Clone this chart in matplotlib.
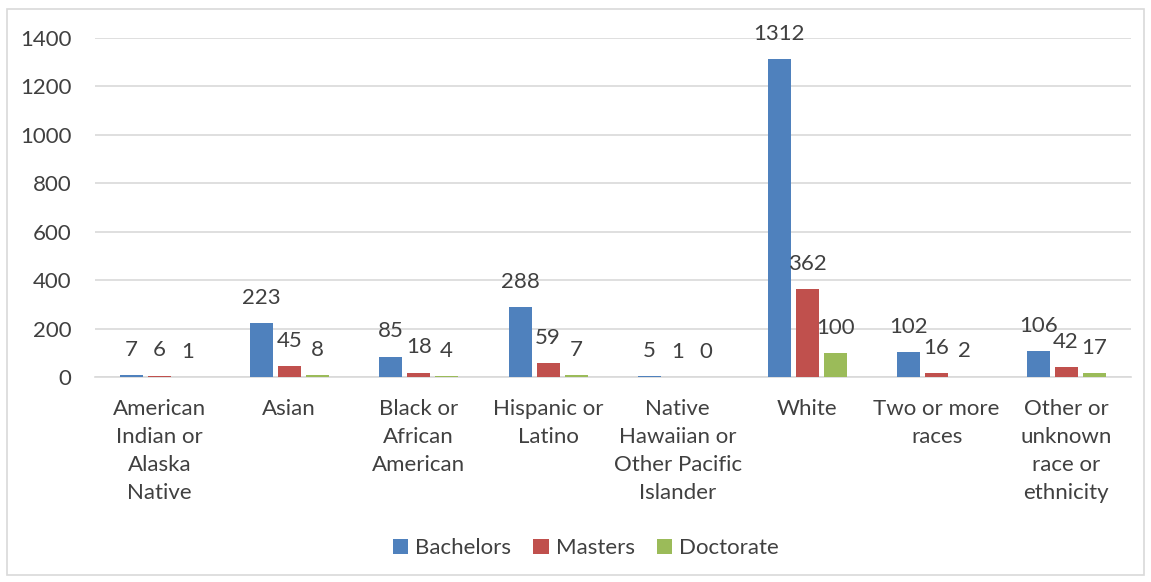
import matplotlib.pyplot as plt
from matplotlib.patches import Rectangle
import numpy as np

plt.rcParams['font.family'] = ['Lato', 'DejaVu Sans']

categories = ["American\nIndian or\nAlaska\nNative", "Asian", "Black or\nAfrican\nAmerican",
              "Hispanic or\nLatino", "Native\nHawaiian or\nOther Pacific\nIslander", "White",
              "Two or more\nraces", "Other or\nunknown\nrace or\nethnicity"]
bachelors = [7, 223, 85, 288, 5, 1312, 102, 106]
masters = [6, 45, 18, 59, 1, 362, 16, 42]
doctorate = [1, 8, 4, 7, 0, 100, 2, 17]

series = [("Bachelors", bachelors, "#4F81BD"),
          ("Masters", masters, "#C0504D"),
          ("Doctorate", doctorate, "#9BBB59")]

fig = plt.figure(figsize=(11.51, 5.82), dpi=100)
ax = fig.add_axes([0.0825, 0.352, 0.9, 0.583])
fig.patches.append(Rectangle((0.006, 0.012), 0.988, 0.972, transform=fig.transFigure,
                             fill=False, edgecolor="#D9D9D9", linewidth=1.2))

x = np.arange(len(categories))
w = 0.178
step = 0.216
txt = "#404040"
fs = 16
for i, (name, vals, col) in enumerate(series):
    pos = x + (i - 1) * step
    bars = ax.bar(pos, vals, w, color=col, label=name, zorder=3)
    for p, v in zip(pos, vals):
        ax.annotate(str(v), (p, v), xytext=(0, 11), textcoords="offset points",
                    ha="center", va="bottom", fontsize=fs, color=txt)

ax.set_xlim(-0.5, len(categories) - 0.5)
ax.set_ylim(0, 1400)
ax.set_yticks(range(0, 1401, 200))
ax.set_xticks(x)
ax.set_xticklabels(categories, fontsize=fs, color=txt, linespacing=1.5)
ax.tick_params(axis="y", labelsize=fs, labelcolor=txt, length=0, pad=17)
ax.tick_params(axis="x", length=0, pad=16)
ax.grid(axis="y", color="#D9D9D9", linewidth=1.2, zorder=0)
for s in ["top", "right", "left"]:
    ax.spines[s].set_visible(False)
ax.spines["bottom"].set_color("#D9D9D9")
ax.spines["bottom"].set_linewidth(1.2)

fig.legend(loc="center", bbox_to_anchor=(0.509, 0.058), ncol=3, frameon=False,
           fontsize=fs, handlelength=0.7, handleheight=0.7, handletextpad=0.3,
           columnspacing=1.0, labelcolor=txt)

fig.savefig("out.png", dpi=100)
